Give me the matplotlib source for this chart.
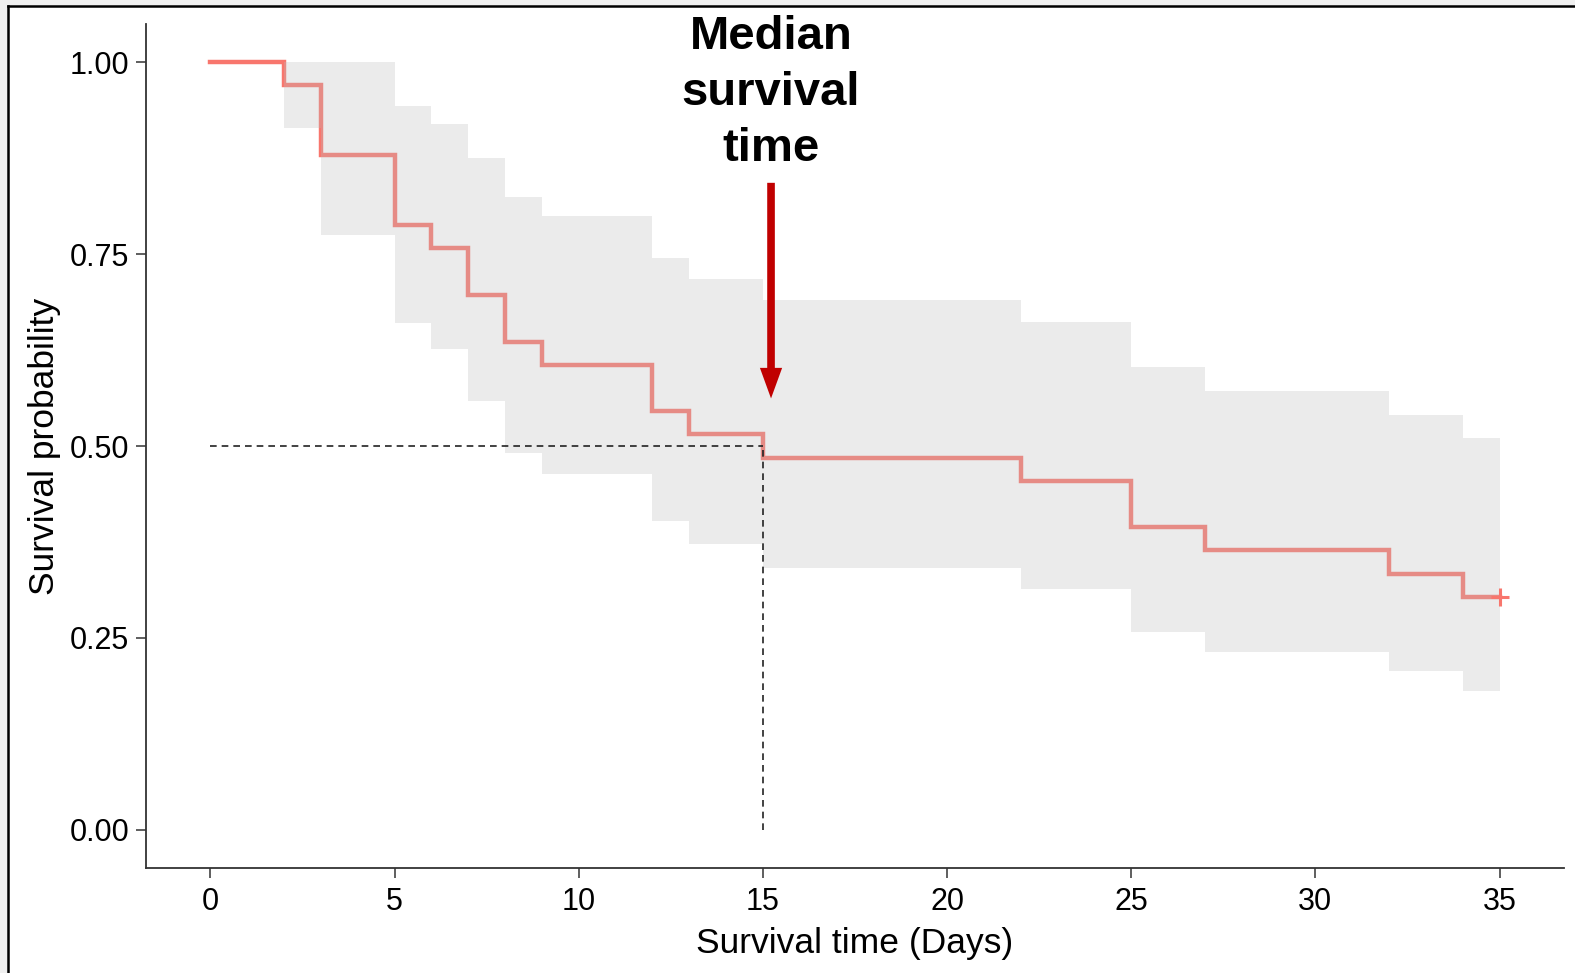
import numpy as np
import matplotlib.pyplot as plt
from matplotlib.patches import Rectangle
from matplotlib.lines import Line2D

# ── Dati ────────────────────────────────────────────────────────────────────
TIMES = [0, 2, 3, 5, 6, 7, 8, 9, 12, 13, 15, 22, 25, 27, 32, 34, 35]
SURV  = [1.000, 0.970, 0.879, 0.788, 0.758, 0.697, 0.636, 0.606, 0.545,
         0.515, 0.485, 0.455, 0.394, 0.364, 0.333, 0.303, 0.303]
UPPER = [1.000, 1.000, 1.000, 0.943, 0.920, 0.875, 0.825, 0.800, 0.745,
         0.718, 0.690, 0.661, 0.603, 0.572, 0.541, 0.510, 0.510]
LOWER = [1.000, 0.914, 0.775, 0.660, 0.626, 0.558, 0.491, 0.464, 0.402,
         0.372, 0.341, 0.313, 0.258, 0.231, 0.207, 0.181, 0.181]
CENSOR_T = [35]
CENSOR_S = [0.303]
MEDIAN = 15

X_TICKS = [0, 5, 10, 15, 20, 25, 30, 35]
Y_TICKS = [0.00, 0.25, 0.50, 0.75, 1.00]

LINE_COL = "#F8766D"
ARROW_COL = "#C00000"
W, H = 1575, 973
# ─────────────────────────────────────────────────────────────────────────────

plt.rcParams["font.family"] = ["Liberation Sans", "DejaVu Sans"]

fig = plt.figure(figsize=(W / 100, H / 100), dpi=100)
fig.patch.set_facecolor("white")

# cornice esterna (screenshot): strisce grigie + linee nere in alto e a sinistra
fig.patches.append(Rectangle((0, 1 - 5 / H), 1, 5 / H, transform=fig.transFigure,
                             color="#F0F0F0", zorder=0))
fig.patches.append(Rectangle((0, 0), 7 / W, 1, transform=fig.transFigure,
                             color="#F0F0F0", zorder=0))
fig.lines.append(Line2D([8 / W, 1], [1 - 6 / H, 1 - 6 / H], transform=fig.transFigure,
                        color="black", linewidth=1.8))
fig.lines.append(Line2D([8 / W, 8 / W], [0, 1 - 6 / H], transform=fig.transFigure,
                        color="black", linewidth=1.8))

ax = fig.add_axes([146 / W, 1 - 868 / H, (1564 - 146) / W, (868 - 24) / H])

# curva KM (sotto la banda, che la attenua come nel ggplot originale)
ax.step(TIMES, SURV, where="post", color=LINE_COL, linewidth=3.2, zorder=2,
        solid_joinstyle="miter")
ax.fill_between(TIMES, LOWER, UPPER, step="post", color="#BEBEBE", alpha=0.3,
                linewidth=0, zorder=3)
ax.plot(CENSOR_T, CENSOR_S, marker="+", color=LINE_COL, markersize=13,
        markeredgewidth=2.2, linestyle="none", zorder=4)

# linee tratteggiate della mediana
ax.plot([0, MEDIAN], [0.5, 0.5], color="#222222", linestyle=(0, (4, 3)),
        linewidth=1.2, zorder=5)
ax.plot([MEDIAN, MEDIAN], [0, 0.5], color="#222222", linestyle=(0, (4, 3)),
        linewidth=1.2, zorder=5)

# annotazione
ax.annotate("", xy=(MEDIAN + 0.22, 0.562), xytext=(MEDIAN + 0.22, 0.843),
            arrowprops=dict(arrowstyle="simple,head_length=2.2,head_width=1.6,tail_width=0.55",
                            mutation_scale=10, color=ARROW_COL, linewidth=0,
                            shrinkA=0, shrinkB=0),
            zorder=6)
ax.text(MEDIAN + 0.22, 0.960, "Median\nsurvival\ntime", ha="center", va="center",
        fontsize=34, fontweight="bold", linespacing=1.36, zorder=6)

ax.set_xlim(-1.75, 36.75)
ax.set_ylim(-0.05, 1.05)
ax.set_xticks(X_TICKS)
ax.set_yticks(Y_TICKS)
ax.set_yticklabels([f"{v:.2f}" for v in Y_TICKS])
ax.tick_params(labelsize=22, length=7, width=1.1, colors="#333333",
               labelcolor="black")
ax.tick_params(axis="x", pad=7)
ax.tick_params(axis="y", pad=5)
for side in ("top", "right"):
    ax.spines[side].set_visible(False)
for side in ("left", "bottom"):
    ax.spines[side].set_linewidth(1.3)
    ax.spines[side].set_color("#333333")

ax.set_xlabel("Survival time (Days)", fontsize=25.5, labelpad=7)
ax.set_ylabel("Survival probability", fontsize=25.5, labelpad=6)

plt.savefig("out.png", dpi=100)
